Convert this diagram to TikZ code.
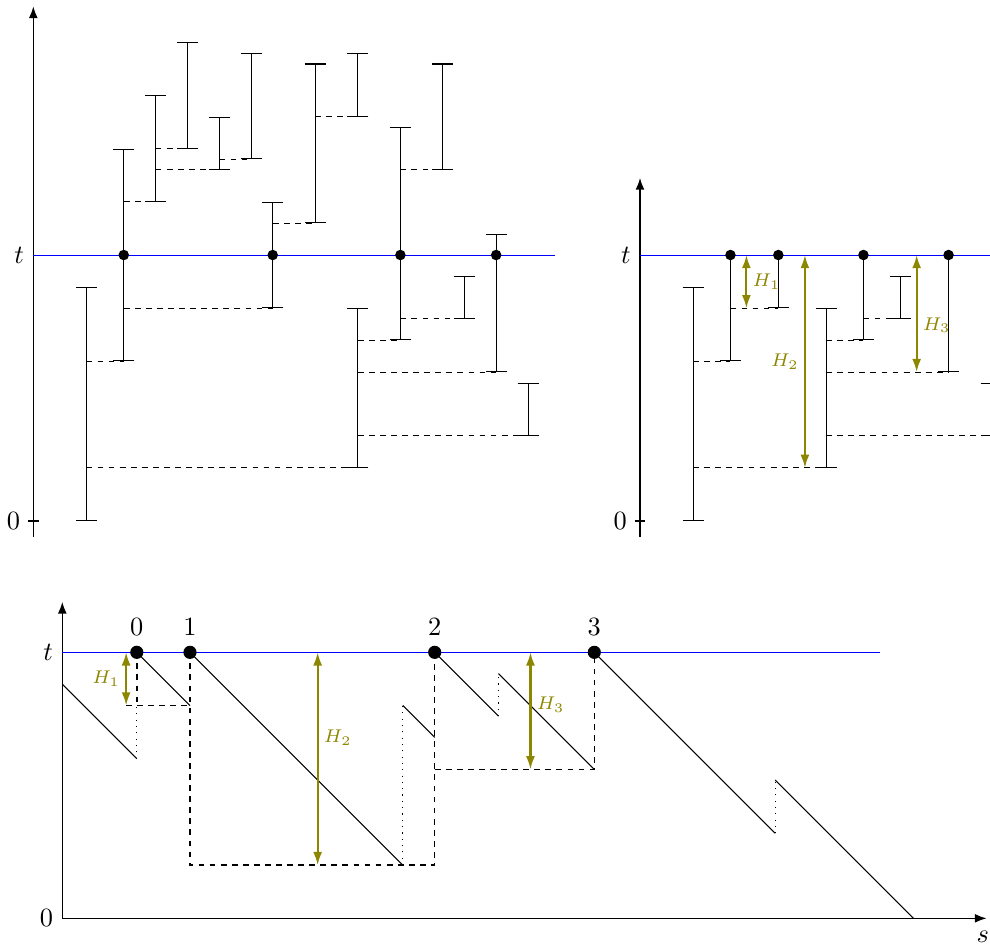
\documentclass[tikz,border=0pt]{standalone}
\usepackage{amsmath,amssymb}
\usepackage{tikz}
\usetikzlibrary{arrows.meta}

\begin{document}
\begin{tikzpicture}[x=0.3547cm, y=0.3547cm,
    ival/.style={{Bar[width=8pt]}-{Bar[width=8pt]}},
    ivalb/.style={{Bar[width=8pt]}-},
    link/.style={dash pattern=on 2.2pt off 2pt},
    axis/.style={semithick, -{Latex[length=4.5pt, width=3.4pt]}},
    hgt/.style={olive, thick, {Latex[length=5pt, width=3.4pt]}-{Latex[length=5pt, width=3.4pt]}},
    hlab/.style={font=\scriptsize, inner sep=2pt},
    dot/.style={circle, fill, inner sep=0pt, minimum size=4pt},
    bigdot/.style={circle, fill, inner sep=0pt, minimum size=5pt}]
    \clip (0,0) rectangle (37.218,35.602);
    % top left: the whole family
    \begin{scope}[shift={(1.252,16.015)}]
        \draw[axis] (0,-0.6) -- (0,19.35);
        \draw (-0.2,0) -- (0.2,0);
        \node[left] (tl) at (0,10) {$t$};
        \node[left] (zl) at (-0.15,0) {$0$};
        \draw[blue, line width=0.3pt] (0,10) -- (19.6,10);
        \draw[link] (2,6) -- (3.4,6) (2,2) -- (12.2,2) (3.4,12) -- (4.6,12) (3.4,8) -- (9,8)
            (4.6,14) -- (5.8,14) (4.6,13.2) -- (7,13.2) (7,13.6) -- (8.2,13.6) (9,11.2) -- (10.6,11.2)
            (10.6,15.2) -- (12.2,15.2) (12.2,6.8) -- (13.8,6.8) (12.2,5.6) -- (17.4,5.6)
            (12.2,3.2) -- (18.6,3.2) (13.8,13.2) -- (15.4,13.2) (13.8,7.6) -- (16.2,7.6);
        \draw[ival] (2,0) -- (2,8.8);
        \draw[ival] (3.4,6) -- (3.4,14);
        \draw[ival] (4.6,12) -- (4.6,16);
        \draw[ival] (5.8,14) -- (5.8,18);
        \draw[ival] (7,13.2) -- (7,15.2);
        \draw[ival] (8.2,13.6) -- (8.2,17.6);
        \draw[ival] (9,8) -- (9,12);
        \draw[ival] (10.6,11.2) -- (10.6,17.2);
        \draw[ival] (12.2,15.2) -- (12.2,17.6);
        \draw[ival] (12.2,2) -- (12.2,8);
        \draw[ival] (13.8,6.8) -- (13.8,14.8);
        \draw[ival] (15.4,13.2) -- (15.4,17.2);
        \draw[ival] (16.2,7.6) -- (16.2,9.2);
        \draw[ival] (17.4,5.6) -- (17.4,10.8);
        \draw[ival] (18.6,3.2) -- (18.6,5.2);
        \node[dot] (a1) at (3.4,10) {};
        \node[dot] (a2) at (9,10) {};
        \node[dot] (a3) at (13.8,10) {};
        \node[dot] (a4) at (17.4,10) {};
    \end{scope}
    % top right: cut at t
    \begin{scope}[shift={(24.06,16.015)}]
        \draw[axis] (0,-0.6) -- (0,12.9);
        \draw (-0.2,0) -- (0.2,0);
        \node[left] (tr) at (0,10) {$t$};
        \node[left] (zr) at (-0.15,0) {$0$};
        \draw[blue, line width=0.3pt] (0,10) -- (14,10);
        \draw[link] (2,6) -- (3.4,6) (2,2) -- (7,2) (3.4,8) -- (5.2,8) (7,6.8) -- (8.4,6.8)
            (7,5.6) -- (11.6,5.6) (7,3.2) -- (13.2,3.2) (8.4,7.6) -- (9.8,7.6);
        \draw[ival] (2,0) -- (2,8.8);
        \draw[ivalb] (3.4,6) -- (3.4,10);
        \draw[ivalb] (5.2,8) -- (5.2,10);
        \draw[ival] (7,2) -- (7,8);
        \draw[ivalb] (8.4,6.8) -- (8.4,10);
        \draw[ival] (9.8,7.6) -- (9.8,9.2);
        \draw[ivalb] (11.6,5.6) -- (11.6,10);
        \draw[ival] (13.2,3.2) -- (13.2,5.2);
        \node[dot] (b1) at (3.4,10) {};
        \node[dot] (b2) at (5.2,10) {};
        \node[dot] (b3) at (8.4,10) {};
        \node[dot] (b4) at (11.6,10) {};
        \draw[hgt] (4,10) -- (4,8) node[hlab, midway, right] {$H_1$};
        \draw[hgt] (6.2,10) -- (6.2,2) node[hlab, midway, left] {$H_2$};
        \draw[hgt] (10.4,10) -- (10.4,5.6) node[hlab, pos=0.6, right] {$H_3$};
    \end{scope}
    % bottom: contour
    \begin{scope}[shift={(2.342,1.079)}]
        \draw[axis] (0,0) -- (0,11.9);
        \draw[axis] (0,0) -- (34.75,0);
        \node[left] (tb) at (0,10) {$t$};
        \node[left] (zb) at (0,0) {$0$};
        \node[below, yshift=-1.5pt] (sb) at (34.6,0) {$s$};
        \draw[blue] (0,10) -- (30.75,10);
        \draw (0,8.8) -- (2.8,6) (2.8,10) -- (4.8,8) (4.8,10) -- (12.8,2) (12.8,8) -- (14,6.8)
            (14,10) -- (16.4,7.6) (16.4,9.2) -- (20,5.6) (20,10) -- (26.8,3.2) (26.8,5.2) -- (32,0);
        \draw[dotted] (2.8,6) -- (2.8,8) (12.8,2) -- (12.8,8) (16.4,7.6) -- (16.4,9.2) (26.8,3.2) -- (26.8,5.2);
        \draw[link, semithick] (2.8,10) -- (2.8,8) (2.4,8) -- (4.8,8) (4.8,10) -- (4.8,2) -- (14,2) -- (14,10)
            (14,5.6) -- (20,5.6) -- (20,10);
        \node[bigdot, label=above:$0$] (c0) at (2.8,10) {};
        \node[bigdot, label=above:$1$] (c1) at (4.8,10) {};
        \node[bigdot, label=above:$2$] (c2) at (14,10) {};
        \node[bigdot, label=above:$3$] (c3) at (20,10) {};
        \draw[hgt] (2.4,10) -- (2.4,8) node[hlab, midway, left] {$H_1$};
        \draw[hgt] (9.6,10) -- (9.6,2) node[hlab, pos=0.4, right] {$H_2$};
        \draw[hgt] (17.6,10) -- (17.6,5.6) node[hlab, pos=0.45, right] {$H_3$};
    \end{scope}
\end{tikzpicture}
\end{document}
